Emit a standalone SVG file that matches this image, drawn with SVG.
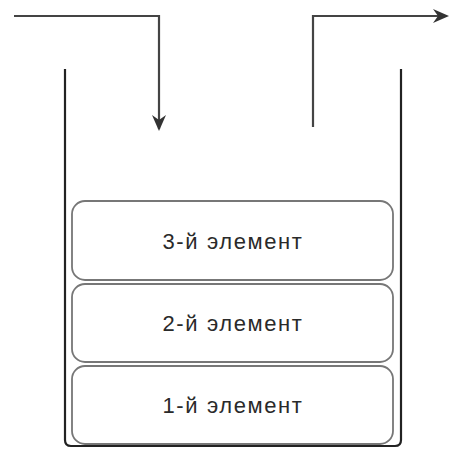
<svg xmlns="http://www.w3.org/2000/svg" width="449" height="449" viewBox="0 0 449 449">
<defs>
<marker id="arr" markerWidth="16" markerHeight="16" viewBox="0 0 16 16" refX="14" refY="8" orient="auto" markerUnits="userSpaceOnUse">
<path d="M0,1 L16,8 L0,15 L5,8 Z" fill="#333"/>
</marker>
<style>
.item{fill:#fff;stroke:#777;stroke-width:1.8}
.lbl{font-family:"Liberation Sans",Arial,sans-serif;font-size:22px;fill:#2a2a2a;text-anchor:middle;letter-spacing:1.6px}
.wire{fill:none;stroke:#444;stroke-width:2.2}
.wall{fill:none;stroke:#222;stroke-width:2.2}
</style>
</defs>
<rect width="449" height="449" fill="#fff"/>
<g id="container"><path class="wall" d="M65,69 L65,440 Q65,446 71,446 L395,446 Q401,446 401,440 L401,69"/></g>
<g id="item3"><rect class="item" x="72" y="201" width="321" height="79" rx="13"/><text class="lbl" x="233" y="249">3-й элемент</text></g>
<g id="item2"><rect class="item" x="72" y="284" width="321" height="78" rx="13"/><text class="lbl" x="233" y="331">2-й элемент</text></g>
<g id="item1"><rect class="item" x="72" y="366" width="321" height="78" rx="13"/><text class="lbl" x="233" y="413">1-й элемент</text></g>
<g id="connectors">
<path class="wire" d="M14,16 L159,16 L159,129" marker-end="url(#arr)"/>
<path class="wire" d="M313,127 L313,16 L447,16" marker-end="url(#arr)"/>
</g>
</svg>
